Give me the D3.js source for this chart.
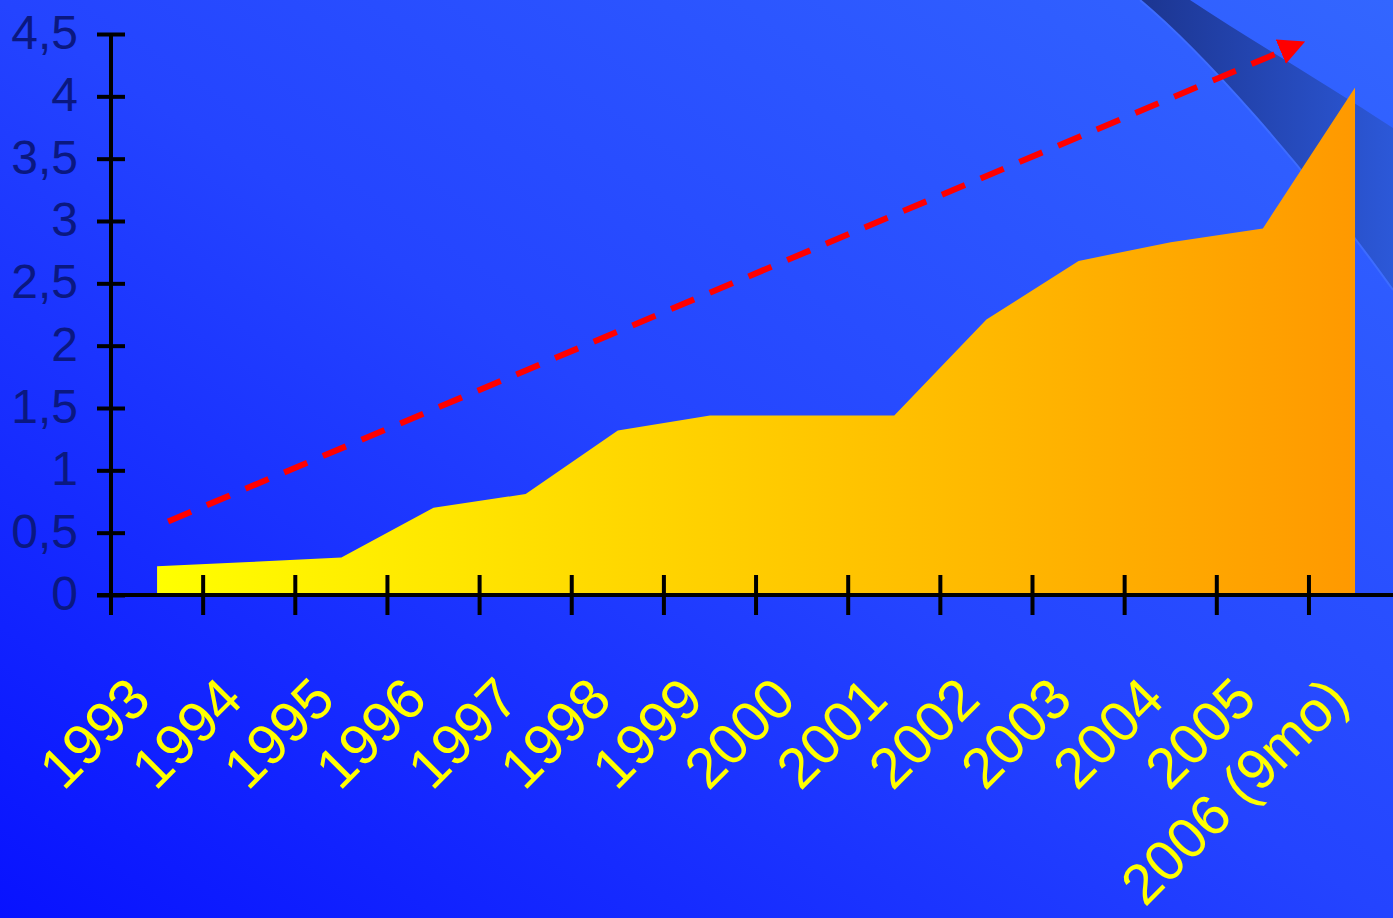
<!DOCTYPE html>
<html>
<head>
<meta charset="utf-8">
<script src="https://cdn.jsdelivr.net/npm/d3@7"></script>
<style>
html,body{margin:0;padding:0;overflow:hidden;background:#1a30ff;}
svg{display:block;}
</style>
</head>
<body>
<script>
// ---- data ----
const categories = ["1993","1994","1995","1996","1997","1998","1999","2000","2001","2002","2003","2004","2005","2006 (9mo)"];
const values = [0.23, 0.265, 0.30, 0.70, 0.81, 1.32, 1.44, 1.44, 1.44, 2.21, 2.68, 2.83, 2.94, 4.07];
const yTicks = [0, 0.5, 1, 1.5, 2, 2.5, 3, 3.5, 4, 4.5];
const yTickLabels = ["0","0,5","1","1,5","2","2,5","3","3,5","4","4,5"];
const trendFrom = {cat: "1993", value: 0.59};
const trendTo = {cat: "2006 (9mo)", value: 4.44};

const W = 1393, H = 918;
const svg = d3.select("body").append("svg").attr("width", W).attr("height", H);
const defs = svg.append("defs");

// background gradient
const bg = defs.append("linearGradient").attr("id","bg")
  .attr("x1","0").attr("y1","1").attr("x2","1").attr("y2","0");
bg.append("stop").attr("offset","0").attr("stop-color","#0812ff");
bg.append("stop").attr("offset","0.5").attr("stop-color","#2444ff");
bg.append("stop").attr("offset","1").attr("stop-color","#3366ff");
svg.append("rect").attr("width",W).attr("height",H).attr("fill","url(#bg)");

// decorative swoosh
const sw = defs.append("linearGradient").attr("id","sw")
  .attr("x1","0").attr("y1","0").attr("x2","1").attr("y2","0");
sw.append("stop").attr("offset","0").attr("stop-color","#1c3590");
sw.append("stop").attr("offset","1").attr("stop-color","#2c58d8");
svg.append("path")
  .attr("d","M1140,0 C1200,50 1300,160 1393,290 L1393,128 C1320,80 1250,40 1190,0 Z")
  .attr("fill","url(#sw)");
svg.append("path")
  .attr("d","M1140,0 C1200,50 1300,160 1393,290")
  .attr("fill","none").attr("stroke","#3d6cff").attr("stroke-width",2);

// scales
const x = d3.scaleBand().domain(categories).range([111, 111 + 14*92.15]).padding(0);
const xc = d => x(d) + x.bandwidth()/2;
const y = d3.scaleLinear().domain([0, 4.5]).range([595, 34]);

// area gradient
const ag = defs.append("linearGradient").attr("id","ag")
  .attr("gradientUnits","userSpaceOnUse")
  .attr("x1", xc(categories[0])).attr("y1",0)
  .attr("x2", xc(categories[categories.length-1])).attr("y2",0);
ag.append("stop").attr("offset","0").attr("stop-color","#ffff00");
ag.append("stop").attr("offset","1").attr("stop-color","#ff9900");

const area = d3.area()
  .x((d,i) => xc(categories[i]))
  .y0(y(0))
  .y1(d => y(d))
  .curve(d3.curveLinear);
svg.append("path").datum(values).attr("d", area).attr("fill","url(#ag)");

// trend arrow
defs.append("marker").attr("id","arr")
  .attr("viewBox","0 0 10 10").attr("refX",2).attr("refY",5)
  .attr("markerWidth",4.4).attr("markerHeight",4.4).attr("orient","auto")
  .attr("markerUnits","strokeWidth")
  .append("path").attr("d","M0,0 L10,5 L0,10 Z").attr("fill","#ff0000");
const tx1 = xc(trendFrom.cat) + 11, ty1 = y(trendFrom.value);
const tx2 = xc(trendTo.cat) - 50, ty2 = y(trendTo.value);
const len = Math.hypot(tx2-tx1, ty2-ty1);
const ux = (tx2-tx1)/len, uy = (ty2-ty1)/len;
svg.append("line")
  .attr("x1",tx1).attr("y1",ty1)
  .attr("x2",tx2-ux*21).attr("y2",ty2-uy*21)
  .attr("stroke","#ff0000").attr("stroke-width",6)
  .attr("stroke-dasharray","25,17")
  .attr("marker-end","url(#arr)");

// axes
const xAxisG = svg.append("g").attr("transform",`translate(0,${y(0)})`);
xAxisG.append("line").attr("x1",97).attr("x2",W).attr("y1",0).attr("y2",0)
  .attr("stroke","#000").attr("stroke-width",4);
xAxisG.selectAll("line.xt").data(categories.slice(1)).enter().append("line")
  .attr("class","xt")
  .attr("x1", d => x(d)).attr("x2", d => x(d))
  .attr("y1",-20).attr("y2",20)
  .attr("stroke","#000").attr("stroke-width",4);

const yAxis = d3.axisLeft(y).tickValues(yTicks).tickSize(0).tickFormat((d,i)=>yTickLabels[i]);
const yAxisG = svg.append("g").attr("transform","translate(111,0)").call(yAxis);
yAxisG.select(".domain").remove();
yAxisG.append("line").attr("x1",0).attr("x2",0).attr("y1",y(4.5)).attr("y2",615)
  .attr("stroke","#000").attr("stroke-width",4);
yAxisG.selectAll(".tick line").remove();
yAxisG.selectAll(".tick").append("line")
  .attr("x1",-14).attr("x2",14).attr("stroke","#000").attr("stroke-width",4);
yAxisG.selectAll(".tick text")
  .attr("x",-33).attr("dy","0.3em")
  .attr("fill","#0a1880")
  .style("font-family","'Liberation Sans', Arial, sans-serif")
  .style("font-size","48px");

// x labels
svg.append("g").selectAll("text").data(categories).enter().append("text")
  .attr("transform", d => `translate(${xc(d)-4},${702}) rotate(-45)`)
  .attr("text-anchor","end")
  .attr("fill","#ffff00")
  .style("font-family","'Liberation Sans', Arial, sans-serif")
  .style("font-size","57px")
  .text(d => d);
</script>
</body>
</html>
